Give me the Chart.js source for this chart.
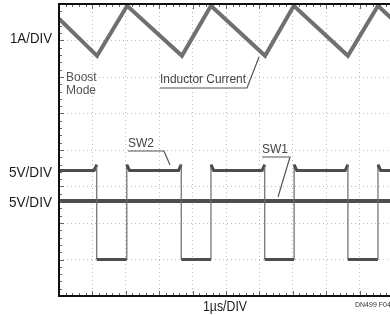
<!DOCTYPE html>
<html>
<head>
<meta charset="utf-8">
<script src="https://cdn.jsdelivr.net/npm/chart.js@4/dist/chart.umd.min.js"></script>
<style>
  html, body { margin:0; padding:0; background:#fff; overflow:hidden; width:390px; height:315px; }
  #wrap { position:absolute; left:0; top:0; width:400px; height:315px; }
</style>
</head>
<body>
<div id="wrap"><canvas id="grafica" width="400" height="315"></canvas></div>
<script>
// time axis: 1us/DIV, 10 divisions
var tiempoMin = 0, tiempoMax = 10;

// inductor current (A), corners of the triangle wave
var corrienteT = [0, 1.14, 2.04, 3.68, 4.55, 6.17, 7.03, 8.65, 9.55, 10];
var corrienteA = [2.6, 1.58, 2.95, 1.58, 2.95, 1.58, 2.95, 1.58, 2.95, 2.57];

// SW2 (V): edge times, level after each edge
var sw2Flancos = [1.13, 2.03, 3.66, 4.55, 6.16, 7.04, 8.65, 9.55];
var sw2Nivel = [0, 12.2, 0, 12.2, 0, 12.2, 0, 12.2];
var sw2Inicial = 12.2;
var sw2Pico = 13.0;   // small overshoot at each edge

// SW1 (V), held at VIN in boost mode
var sw1T = [0, 10];
var sw1V = [5, 5];

// channel ranges (8 divisions each)
var rangoI = [-5, 3];     // 1A/DIV
var rangoSW2 = [-5, 35];  // 5V/DIV
var rangoSW1 = [-8, 32];  // 5V/DIV

function puntos(xs, ys){
    var out = [];
    for (var i = 0; i < xs.length; i++){
        out.push({x: xs[i], y: ys[i]});
    }
    return out;
}

// square wave with vertical edges and the little hook on the high side
function puntosCuadrada(){
    var out = [{x: tiempoMin, y: sw2Inicial}];
    var anterior = sw2Inicial;
    for (var i = 0; i < sw2Flancos.length; i++){
        var t = sw2Flancos[i];
        if (sw2Nivel[i] < anterior){
            out.push({x: t - 0.08, y: anterior});
            out.push({x: t, y: sw2Pico});
            out.push({x: t, y: sw2Nivel[i]});
        } else {
            out.push({x: t, y: anterior});
            out.push({x: t, y: sw2Pico});
            out.push({x: t + 0.08, y: sw2Nivel[i]});
        }
        anterior = sw2Nivel[i];
    }
    out.push({x: tiempoMax, y: anterior});
    return out;
}

function texto(ctx, str, x, y, size, color, align, maxW){
    ctx.save();
    ctx.font = size + 'px "Liberation Sans", Arial, sans-serif';
    ctx.fillStyle = color;
    ctx.textAlign = align || 'left';
    ctx.textBaseline = 'middle';
    if (maxW) ctx.fillText(str, x, y, maxW); else ctx.fillText(str, x, y);
    ctx.restore();
}

function linea(ctx, pts){
    ctx.beginPath();
    ctx.moveTo(pts[0][0], pts[0][1]);
    for (var i = 1; i < pts.length; i++) ctx.lineTo(pts[i][0], pts[i][1]);
    ctx.stroke();
}

var osciloscopio = {
    id: 'osciloscopio',
    afterDatasetsDraw: function(chart){
        var ctx = chart.ctx;
        var a = chart.chartArea;
        var xs = chart.scales.x, ys = chart.scales.yI;
        ctx.save();
        // small ticks along the frame, 5 per division
        ctx.strokeStyle = '#666';
        ctx.lineWidth = 1;
        for (var t = tiempoMin; t <= tiempoMax + 0.001; t += 0.2){
            var px = Math.round(xs.getPixelForValue(t)) + 0.5;
            var largo = (Math.abs(t - Math.round(t)) < 0.01) ? 5 : 3;
            linea(ctx, [[px, a.bottom], [px, a.bottom - largo]]);
            linea(ctx, [[px, a.top], [px, a.top + largo]]);
        }
        for (var v = rangoI[0]; v <= rangoI[1] + 0.001; v += 0.2){
            var py = Math.round(ys.getPixelForValue(v)) + 0.5;
            var largo2 = (Math.abs(v - Math.round(v)) < 0.01) ? 5 : 3;
            linea(ctx, [[a.left, py], [a.left + largo2, py]]);
        }
        // frame
        ctx.strokeStyle = '#111';
        ctx.lineWidth = 2;
        ctx.strokeRect(a.left, a.top, a.right - a.left + 20, a.bottom - a.top);

        // callouts
        ctx.strokeStyle = '#555';
        ctx.lineWidth = 1.2;
        texto(ctx, 'Boost', 66, 78, 12, '#555');
        texto(ctx, 'Mode', 66, 91, 12, '#555');
        texto(ctx, 'Inductor Current', 160, 80, 12, '#444', 'left', 86);
        linea(ctx, [[160, 88], [247, 88], [259, 57]]);
        texto(ctx, 'SW2', 128, 144, 12, '#444');
        linea(ctx, [[128, 151], [164, 151], [170, 165]]);
        texto(ctx, 'SW1', 262, 150, 12, '#444');
        linea(ctx, [[262, 157], [290, 157], [278, 197]]);
        ctx.restore();

        // channel labels, outside the frame
        texto(ctx, '1A/DIV', 52, 39, 14, '#1a1a1a', 'right', 42);
        texto(ctx, '5V/DIV', 52, 173, 14, '#1a1a1a', 'right', 43);
        texto(ctx, '5V/DIV', 52, 203, 14, '#1a1a1a', 'right', 43);
        texto(ctx, '1\u00b5s/DIV', 203, 307, 14, '#1a1a1a', 'left', 44);
        texto(ctx, 'DN499 F04', 355, 305, 7, '#333', 'left', 36);
    }
};

var gridComun = {
    color: '#bdbdbd',
    lineWidth: 1,
    drawTicks: false
};

var esVertical = function(c){ return c.p0.parsed.x === c.p1.parsed.x; };

var ctx = document.getElementById('grafica').getContext('2d');
var myChart = new Chart(ctx, {
    type: 'line',
    data: {
        datasets: [{
            label: 'Inductor Current',
            data: puntos(corrienteT, corrienteA),
            yAxisID: 'yI',
            borderColor: '#707070',
            borderWidth: 4,
            pointRadius: 0,
            tension: 0,
            borderJoinStyle: 'miter'
        }, {
            label: 'SW2',
            data: puntosCuadrada(),
            yAxisID: 'ySW2',
            borderColor: '#4d4d4d',
            borderWidth: 3,
            pointRadius: 0,
            tension: 0,
            segment: {
                borderWidth: function(c){ return esVertical(c) ? 1.2 : 3; },
                borderColor: function(c){ return esVertical(c) ? '#6a6a6a' : '#4d4d4d'; }
            }
        }, {
            label: 'SW1',
            data: puntos(sw1T, sw1V),
            yAxisID: 'ySW1',
            borderColor: '#4d4d4d',
            borderWidth: 4,
            pointRadius: 0
        }]
    },
    options: {
        responsive: false,
        animation: false,
        devicePixelRatio: 1,
        layout: { padding: { left: 59, right: 7, top: 4, bottom: 19 } },
        scales: {
            x: {
                type: 'linear',
                min: tiempoMin,
                max: tiempoMax,
                ticks: { display: false, stepSize: 1 },
                grid: gridComun,
                border: { display: false, dash: [1, 3] }
            },
            yI: {
                type: 'linear',
                position: 'left',
                min: rangoI[0],
                max: rangoI[1],
                ticks: { display: false, stepSize: 1 },
                grid: gridComun,
                border: { display: false, dash: [1, 3] }
            },
            ySW2: {
                type: 'linear',
                display: false,
                min: rangoSW2[0],
                max: rangoSW2[1]
            },
            ySW1: {
                type: 'linear',
                display: false,
                min: rangoSW1[0],
                max: rangoSW1[1]
            }
        },
        plugins: {
            legend: { display: false },
            tooltip: { enabled: false }
        }
    },
    plugins: [osciloscopio]
});
</script>
</body>
</html>
